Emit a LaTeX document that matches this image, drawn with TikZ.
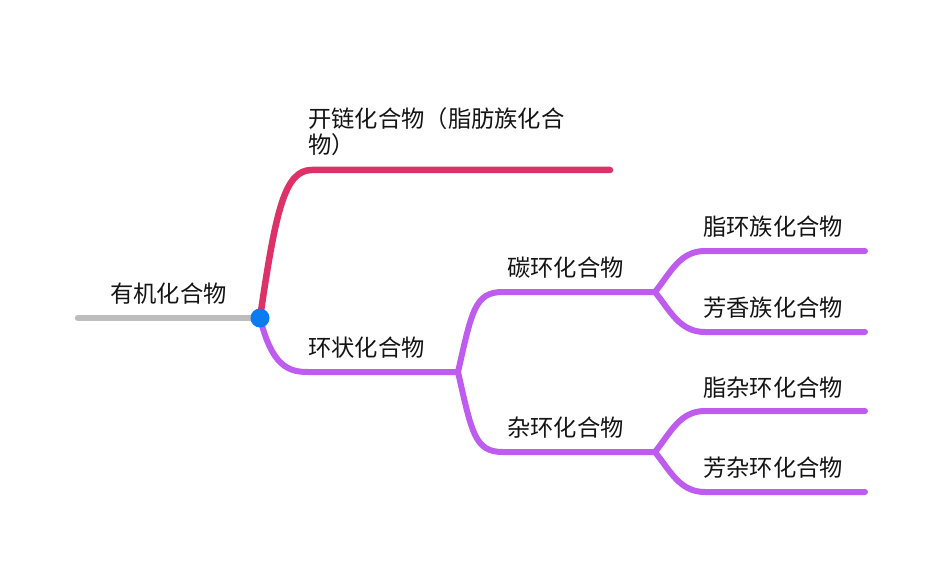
\documentclass[tikz,border=0pt]{standalone}
\usepackage{fontspec}
\setmainfont{Noto Sans CJK SC}
\begin{document}
\begin{tikzpicture}[x=1pt,y=-1pt,
  lbl/.style={anchor=base west,inner sep=0pt,font=\fontsize{23.3}{26}\selectfont,text=black!92},
  rootline/.style={line width=6.5pt,line cap=round,draw=rootgray},
  redline/.style={line width=6.5pt,line cap=round,draw=branchred},
  purline/.style={line width=6pt,line cap=round,draw=branchpur}]
\definecolor{rootgray}{HTML}{BDBDBD}
\definecolor{branchred}{HTML}{DC3268}
\definecolor{branchpur}{HTML}{BF5CF0}
\definecolor{dotblue}{HTML}{0A7CF2}
\useasboundingbox (0,0) rectangle (942,572);
% coordinates
\coordinate (rs) at (78,318);
\coordinate (hub) at (260,318);
\coordinate (re) at (610,170);
\coordinate (cs) at (458,372);
\coordinate (tan) at (655,292);
\coordinate (za) at (655,452);
\coordinate (e1) at (865,251);
\coordinate (e2) at (865,332);
\coordinate (e3) at (865,411);
\coordinate (e4) at (865,492);
% lines
\draw[rootline] (rs) -- (hub);
\draw[redline] (hub) .. controls ([shift={(16,-110)}]hub) and ([shift={(-325,0)}]re) .. ([shift={(-298,0)}]re) -- (re);
\draw[purline] (hub) .. controls ([shift={(12,48)}]hub) and ([shift={(-170,0)}]cs) .. ([shift={(-150,0)}]cs) -- (cs);
\draw[purline] (cs) .. controls ([shift={(14,-62)}]cs) and ([shift={(-180,0)}]tan) .. ([shift={(-152,0)}]tan) -- (tan);
\draw[purline] (cs) .. controls ([shift={(14,62)}]cs) and ([shift={(-180,0)}]za) .. ([shift={(-152,0)}]za) -- (za);
\draw[purline] (tan) .. controls ([shift={(16,-20)}]tan) and ([shift={(-185,0)}]e1) .. ([shift={(-160,0)}]e1) -- (e1);
\draw[purline] (tan) .. controls ([shift={(16,20)}]tan) and ([shift={(-185,0)}]e2) .. ([shift={(-160,0)}]e2) -- (e2);
\draw[purline] (za) .. controls ([shift={(16,-20)}]za) and ([shift={(-185,0)}]e3) .. ([shift={(-160,0)}]e3) -- (e3);
\draw[purline] (za) .. controls ([shift={(16,20)}]za) and ([shift={(-185,0)}]e4) .. ([shift={(-160,0)}]e4) -- (e4);
\fill[dotblue] (hub) circle (9.5);
% labels
\node[lbl] (t0) at (110,302) {有机化合物};
\node[lbl] (t1) at (308,128) {开链化合物（脂肪族化合};
\node[lbl] (t1b) at (308,154) {物）};
\node[lbl] (t2) at (308,356) {环状化合物};
\node[lbl] (t3) at (507,276) {碳环化合物};
\node[lbl] (t4) at (507,436) {杂环化合物};
\node[lbl] (t5) at (703,236) {脂环族化合物};
\node[lbl] (t6) at (703,316) {芳香族化合物};
\node[lbl] (t7) at (703,396) {脂杂环化合物};
\node[lbl] (t8) at (703,476) {芳杂环化合物};
\end{tikzpicture}
\end{document}
